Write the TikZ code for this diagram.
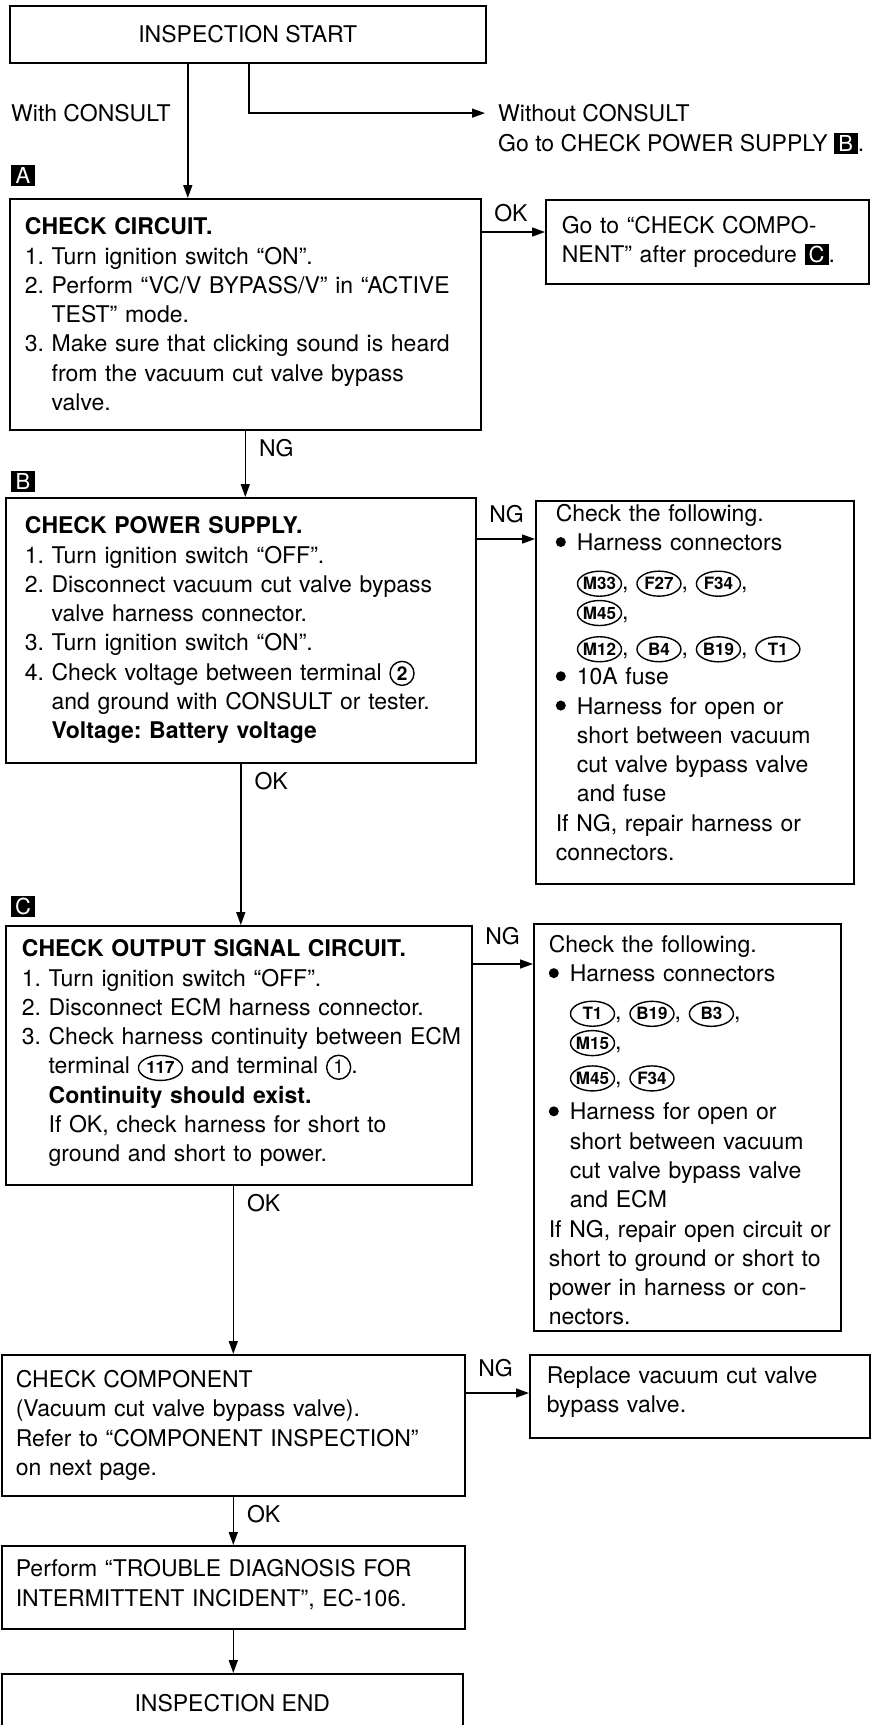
\documentclass[tikz,border=0pt]{standalone}
\usepackage{fontspec}
\setmainfont{TeX Gyre Heros}
\usetikzlibrary{positioning,arrows.meta,shapes.geometric}
\frenchspacing

\tikzset{
  connoval/.style={draw, ellipse, line width=1.4pt, inner xsep=-4pt, inner ysep=0pt, text width={}, align=center,
                   minimum width=44pt, minimum height=25pt, font=\fontsize{17}{17}\selectfont\bfseries},
  numcirc/.style={draw, circle, line width=1.4pt, inner sep=0pt, text width={}, align=center,
                  minimum size=24pt, font=\fontsize{19}{19}\selectfont},
  tag/.style={draw=none, fill=black, text=white, inner sep=0pt, text width={}, align=center,
              minimum width=24pt, minimum height=21pt, font=\fontsize{22}{22}\selectfont},
}
% inline marks
\newcommand{\bul}{\makebox[21pt][l]{\tikz[baseline=-8.5pt]\fill (0,0) circle (5pt);}}
\newcommand{\hbul}{\hspace*{21pt}}
\newcommand{\ind}{\phantom{1. }}
\newcommand{\lift}[1]{\rule[-#1]{0pt}{#1}}
\newcommand{\conn}[1]{\tikz[baseline=(c.base)]\node[connoval] (c) {#1};}
\newcommand{\circnum}[2][]{\tikz[baseline=(n.base)]\node[numcirc,#1] (n) {#2};}
\newcommand{\tagin}[1]{\tikz[baseline=(t.base)]\node[tag] (t) {#1};}

\begin{document}
\begin{tikzpicture}[
  x=1pt, y=-1pt,
  font=\fontsize{23}{29.3}\selectfont,
  box/.style={draw, line width=1.6pt, anchor=north west, align=left, inner ysep=0pt},
  termbox/.style={draw, line width=1.6pt, anchor=north west, align=center, inner sep=0pt},
  txt/.style={inner sep=0pt, anchor=base west},
  flow/.style={-{Triangle[length=13pt,width=9pt]}, line width=1.5pt},
  downlbl/.style={inner sep=0pt, anchor=north west, pos=0, xshift=13pt, yshift=-8pt},
  sidelbl/.style={inner sep=0pt, anchor=south west, pos=0, xshift=12pt, yshift=#1},
  sidelbl/.default=15pt,
]
\useasboundingbox (0,0) rectangle (884,1725);
\clip (0,0) rectangle (884,1725);

% start
\node[termbox, minimum width=476pt, minimum height=57pt] (start) at (9,5) {INSPECTION START};
\node[txt] (withC) at (11,121.5) {With CONSULT};
\node[txt] (noC) at (498,121.5) {Without CONSULT};
\node[txt] (noCgo) at (498,151.5) {Go to CHECK POWER SUPPLY\hspace{6pt}\tagin{B}.};

% step tags
\node[tag] (tagA) at (23,175) {A};
\node[tag] (tagB) at (23,481) {B};
\node[tag] (tagC) at (23,906.5) {C};

% left column
\node[box, inner xsep=15pt, text width=441pt, minimum height=231pt] (chkA) at (9,198) {%
  \textbf{CHECK CIRCUIT.}\\
  1. Turn ignition switch “ON”.\\
  2. Perform “VC/V BYPASS/V” in “ACTIVE\\
  \ind TEST” mode.\\
  3. Make sure that clicking sound is heard\\
  \ind from the vacuum cut valve bypass\\
  \ind valve.};
\node[box, inner xsep=19pt, text width=432pt, minimum height=265pt] (chkB) at (5,497) {%
  \textbf{CHECK POWER SUPPLY.}\\
  1. Turn ignition switch “OFF”.\\
  2. Disconnect vacuum cut valve bypass\\
  \ind valve harness connector.\\
  3. Turn ignition switch “ON”.\\
  4. Check voltage between terminal \circnum[font=\fontsize{19}{19}\selectfont\bfseries]{2}\\
  \ind and ground with CONSULT or tester.\\
  \ind\textbf{Voltage: Battery voltage}};
\node[box, inner xsep=16pt, text width=434pt, minimum height=259pt] (chkC) at (5,925) {%
  \textbf{CHECK OUTPUT SIGNAL CIRCUIT.}\\
  1. Turn ignition switch “OFF”.\\
  2. Disconnect ECM harness connector.\\
  \mbox{3. Check harness continuity between ECM}\\
  \ind terminal \conn{117} and terminal \circnum{1}.\\
  \ind\textbf{Continuity should exist.}\\
  \ind If OK, check harness for short to\\
  \ind ground and short to power.\lift{9pt}};
\node[box, inner xsep=14pt, text width=435pt, minimum height=141pt] (chkComp) at (1,1354) {%
  CHECK COMPONENT\\
  (Vacuum cut valve bypass valve).\\
  Refer to “COMPONENT INSPECTION”\\
  on next page.};
\node[box, inner xsep=14pt, text width=435pt, minimum height=83pt] (diag) at (1,1545) {%
  Perform “TROUBLE DIAGNOSIS FOR\\
  INTERMITTENT INCIDENT”, EC-106.\lift{9pt}};
\node[termbox, minimum width=461pt, minimum height=58pt] (inspEnd) at (1,1673) {INSPECTION END};

% right column
\node[box, inner xsep=16pt, text width=291pt, minimum height=84pt] (goC) at (545,199) {%
  Go to “CHECK COMPO-\\
  NENT” after procedure \tagin{C}.};
\node[box, inner xsep=20pt, text width=278pt, minimum height=383pt] (fixB) at (535,500) {%
  Check the following.\\
  \bul Harness connectors\\[10pt]
  \hbul\conn{M33}, \conn{F27}, \conn{F34},\\
  \hbul\conn{M45},\\[7pt]
  \hbul\conn{M12}, \conn{B4}, \conn{B19}, \conn{T1}\\
  \bul 10A fuse\\
  \bul Harness for open or\\
  \hbul short between vacuum\\
  \hbul cut valve bypass valve\\
  \hbul and fuse\\
  If NG, repair harness or\\
  connectors.\lift{20pt}};
\node[box, inner xsep=15pt, text width=277pt, minimum height=407pt] (fixC) at (533,923) {%
  \rule{0pt}{23pt}Check the following.\\
  \bul Harness connectors\\[9pt]
  \hbul\conn{T1}, \conn{B19}, \conn{B3},\\
  \hbul\conn{M15},\\[6pt]
  \hbul\conn{M45}, \conn{F34}\\[6pt]
  \bul Harness for open or\\
  \hbul short between vacuum\\
  \hbul cut valve bypass valve\\
  \hbul and ECM\\
  \mbox{If NG, repair open circuit or}\\
  \mbox{short to ground or short to}\\
  power in harness or con-\\
  nectors.};
\node[box, inner xsep=17pt, text width=306pt, minimum height=83pt] (swapValve) at (529,1354) {%
  Replace vacuum cut valve\\
  bypass valve.\lift{13pt}};

% connectors
\coordinate (wcTop) at ([xshift=-60pt]start.south);
\draw[flow] (wcTop) -- (wcTop |- chkA.north);
\draw[flow] ([xshift=1pt]start.south) |- ([xshift=-13pt]noC.west);
\coordinate (aOut) at ([yshift=-34pt]chkA.north east);
\draw[flow] (aOut) -- node[sidelbl=9pt] (okA) {OK} (aOut -| goC.west);
\draw[flow] (chkA.south) -- node[downlbl] (ngA) {NG} (chkA.south |- chkB.north);
\coordinate (bOut) at ([yshift=-42pt]chkB.north east);
\draw[flow] (bOut) -- node[sidelbl] (ngB) {NG} (bOut -| fixB.west);
\draw[flow] (chkB.south) -- node[downlbl] (okB) {OK} (chkB.south |- chkC.north);
\coordinate (cOut) at ([yshift=-39pt]chkC.north east);
\draw[flow] (cOut) -- node[sidelbl=18pt] (ngC) {NG} (cOut -| fixC.west);
\draw[flow] (chkC.south -| chkComp.north) -- node[downlbl] (okC) {OK} (chkComp.north);
\coordinate (ccOut) at ([yshift=-39pt]chkComp.north east);
\draw[flow] (ccOut) -- node[sidelbl] (ngComp) {NG} (ccOut -| swapValve.west);
\draw[flow] (chkComp.south) -- node[downlbl] (okComp) {OK} (chkComp.south |- diag.north);
\draw[flow] (diag.south) -- (diag.south |- inspEnd.north);
\end{tikzpicture}
\end{document}
